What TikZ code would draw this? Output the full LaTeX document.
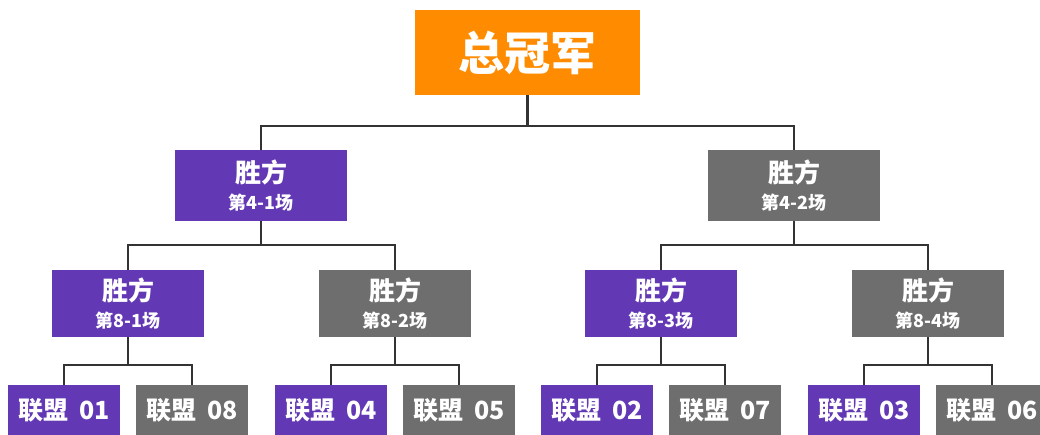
\documentclass[tikz,border=0pt]{standalone}
\usepackage{fontspec}
\newfontfamily\cjk{Noto Sans CJK SC}
\definecolor{champ}{HTML}{FF8C00}
\definecolor{win}{HTML}{6338B4}
\definecolor{lose}{HTML}{6E6E6E}
\definecolor{wire}{HTML}{333333}
\tikzset{
  box/.style={inner sep=0pt, outer sep=0pt, text=white, font=\cjk\bfseries, align=center},
  topbox/.style={box, fill=champ, minimum width=225pt, minimum height=85pt, font=\cjk\bfseries\fontsize{46}{50}\selectfont},
  midbox/.style={box, minimum width=172pt, minimum height=71pt},
  lowbox/.style={box, minimum width=152pt, minimum height=67pt},
  leafbox/.style={box, minimum width=112pt, minimum height=50pt, font=\cjk\bfseries\fontsize{25}{28}\selectfont},
  wirestyle/.style={draw=wire, line width=2.6pt}
}
\newcommand{\wl}[2]{{\fontsize{26}{28}\selectfont #1}\\[7pt]{\fontsize{18}{24}\selectfont #2}}
\newcommand{\leaguename}[1]{联盟\hspace{0.45em}#1}
\begin{document}
\begin{tikzpicture}[x=1pt,y=-1pt]
\useasboundingbox (0,0) rectangle (1040,434);
\clip (0,0) rectangle (1040,434);
% nodes
\node[topbox] (top) at (527.5,52.5) {总冠军};
\node[midbox, fill=win]  (m1) at (261,185.5) {\wl{胜方}{第4-1场}};
\node[midbox, fill=lose] (m2) at (794,185.5) {\wl{胜方}{第4-2场}};
\node[lowbox, fill=win]  (q1) at (128,303.5) {\wl{胜方}{第8-1场}};
\node[lowbox, fill=lose] (q2) at (395,303.5) {\wl{胜方}{第8-2场}};
\node[lowbox, fill=win]  (q3) at (661,303.5) {\wl{胜方}{第8-3场}};
\node[lowbox, fill=lose] (q4) at (928,303.5) {\wl{胜方}{第8-4场}};
\node[leafbox, fill=win]  (t01) at (64,410) {\leaguename{01}};
\node[leafbox, fill=lose] (t08) at (192,410) {\leaguename{08}};
\node[leafbox, fill=win]  (t04) at (331,410) {\leaguename{04}};
\node[leafbox, fill=lose] (t05) at (459,410) {\leaguename{05}};
\node[leafbox, fill=win]  (t02) at (597,410) {\leaguename{02}};
\node[leafbox, fill=lose] (t07) at (725,410) {\leaguename{07}};
\node[leafbox, fill=win]  (t03) at (864,410) {\leaguename{03}};
\node[leafbox, fill=lose] (t06) at (992,410) {\leaguename{06}};
% junctions
\coordinate (j0) at (527.5,126);
\coordinate (j1) at (261,245);
\coordinate (j2) at (794,245);
\coordinate (k1) at (128,365);
\coordinate (k2) at (395,365);
\coordinate (k3) at (661,365);
\coordinate (k4) at (928,365);
% connectors
\draw[wirestyle] (top.south) -- (j0);
\draw[wirestyle] (m1.north) |- (j0) -| (m2.north);
\draw[wirestyle] (m1.south) -- (j1);
\draw[wirestyle] (q1.north) |- (j1) -| (q2.north);
\draw[wirestyle] (m2.south) -- (j2);
\draw[wirestyle] (q3.north) |- (j2) -| (q4.north);
\draw[wirestyle] (q1.south) -- (k1);
\draw[wirestyle] (t01.north) |- (k1) -| (t08.north);
\draw[wirestyle] (q2.south) -- (k2);
\draw[wirestyle] (t04.north) |- (k2) -| (t05.north);
\draw[wirestyle] (q3.south) -- (k3);
\draw[wirestyle] (t02.north) |- (k3) -| (t07.north);
\draw[wirestyle] (q4.south) -- (k4);
\draw[wirestyle] (t03.north) |- (k4) -| (t06.north);
\end{tikzpicture}
\end{document}
